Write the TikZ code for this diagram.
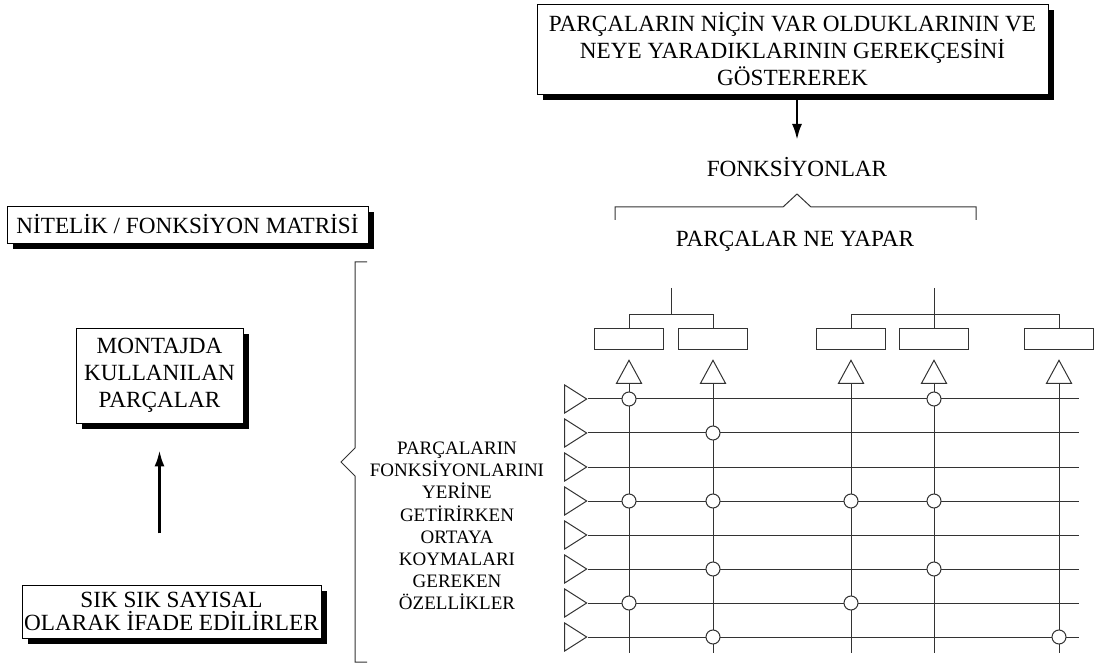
\documentclass[tikz,border=0pt]{standalone}
\usepackage{fontspec}
\setmainfont{Liberation Serif}
\usetikzlibrary{arrows.meta, positioning, shapes.geometric, shadows}

\begin{document}
\begin{tikzpicture}[
    x=1pt, y=-1pt,
    font=\fontsize{23.2}{27}\selectfont,
    box/.style={
        rectangle,
        draw,
        fill=white,
        align=center,
        inner sep=0pt,
        line width=0.8pt,
        drop shadow={shadow xshift=6pt, shadow yshift=-6pt, fill=black, opacity=1}
    },
    caption/.style={
        align=center,
        inner sep=0pt
    },
    wire/.style={
        draw=black!80,
        line width=1pt
    },
    slot/.style={
        rectangle,
        wire,
        minimum width=69pt,
        minimum height=21pt,
        inner sep=0pt
    },
    intri/.style={
        isosceles triangle,
        isosceles triangle stretches,
        wire,
        minimum width=28pt,
        minimum height=22pt,
        inner sep=0pt,
        anchor=apex
    },
    uptri/.style={
        intri,
        shape border rotate=90,
        minimum width=25pt,
        minimum height=23pt
    },
    hit/.style={
        circle,
        wire,
        fill=white,
        minimum size=14pt,
        inner sep=0pt
    },
    arrow/.style={
        -{Latex[length=16pt, width=10pt]},
        line width=2.6pt
    }
]
\useasboundingbox (0,0) rectangle (1096,668);

% top: why the parts exist
\node[box, minimum width=511pt, minimum height=90pt] (why) at (792.5,49)
{PARÇALARIN NİÇİN VAR OLDUKLARININ VE\\
NEYE YARADIKLARININ GEREKÇESİNİ\\
GÖSTEREREK};

\node[caption] (fonk) at (797,167) {FONKSİYONLAR};
\coordinate (fonktop) at (797,140);
\draw[arrow] (why.south -| fonktop) -- (fonktop);

\draw[wire] (615,220) -- (615,207) -- (783,207) -- (797,194) -- (811,207)
    -- (976,207) -- (976,220);

\node[caption] (does) at (795,241) {PARÇALAR NE YAPAR};

% left side
\node[box, minimum width=361pt, minimum height=37pt] (matrix) at (187.5,224.5)
{NİTELİK / FONKSİYON MATRİSİ};

\node[box, minimum width=167pt, minimum height=95pt] (parts) at (159.5,375.5)
{MONTAJDA\\
KULLANILAN\\
PARÇALAR};

\node[box, minimum width=299pt, minimum height=53pt,
      font=\fontsize{23.2}{23}\selectfont] (numeric) at (171.5,611.5)
{SIK SIK SAYISAL\\
OLARAK İFADE EDİLİRLER};

\draw[arrow] ([yshift=-110pt]parts.south) -- ([yshift=-27pt]parts.south);

\draw[wire] (367,262) -- (355,262) -- (355,448) -- (341,462) -- (355,476)
    -- (355,662) -- (367,662);

\node[caption, font=\fontsize{19}{22.2}\selectfont] (traits) at (457,526)
{PARÇALARIN\\
FONKSİYONLARINI\\
YERİNE\\
GETİRİRKEN\\
ORTAYA\\
KOYMALARI\\
GEREKEN\\
ÖZELLİKLER};

% matrix
\coordinate (rend) at (1079,0);
\coordinate (cend) at (0,653);
\coordinate (bar) at (0,315);

\foreach \y [count=\r] in {399,433,...,637} {
    \node[intri] (in\r) at (588,\y) {};
    \draw[wire] (in\r.apex) -- (in\r.apex -| rend);
}

\foreach \x [count=\c] in {629,713,851,934,1059} {
    \node[slot] (slot\c) at (\x,339.5) {};
    \node[uptri] (out\c) at (\x,359) {};
    \draw[wire] (out\c.lower side) -- (out\c.lower side |- cend);
}

\foreach \c/\r in {1/1,1/4,1/7,2/2,2/4,2/6,2/8,3/4,3/7,4/1,4/4,4/6,5/8}
    \node[hit] (hit\c\r) at (out\c.lower side |- in\r.apex) {};

% tree above the slots
\coordinate (stemA) at (671,288);
\coordinate (stemB) at (934,288);
\draw[wire] (stemA) -- (stemA |- bar);
\draw[wire] (slot1.north) |- (slot2.north |- bar) -- (slot2.north);
\draw[wire] (stemB) -- (slot4.north);
\draw[wire] (slot3.north) |- (slot5.north |- bar) -- (slot5.north);

\end{tikzpicture}
\end{document}
